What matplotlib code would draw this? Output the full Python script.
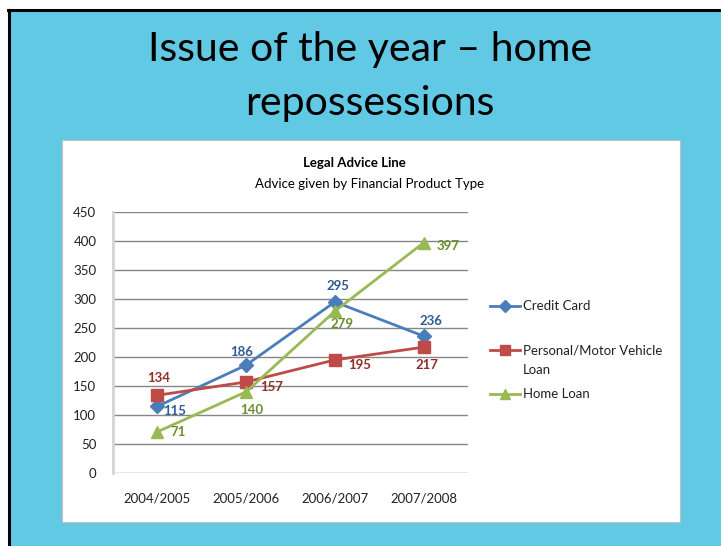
import matplotlib.pyplot as plt
from matplotlib.patches import Rectangle
from matplotlib.lines import Line2D

plt.rcParams["font.family"] = ["Lato", "DejaVu Sans"]

# data
years = ["2004/2005", "2005/2006", "2006/2007", "2007/2008"]
credit_card = [115, 186, 295, 236]
personal_loan = [134, 157, 195, 217]
home_loan = [71, 140, 279, 397]
y_ticks = [0, 50, 100, 150, 200, 250, 300, 350, 400, 450]

W, H = 721, 546
fig = plt.figure(figsize=(W / 100, H / 100), dpi=100)
fig.patch.set_facecolor("white")


def fx(px):
    return px / W


def fy(py):
    return 1 - py / H


# slide background with the dark frame on top/left
fig.patches.append(Rectangle((fx(10), 0), 1 - fx(10), fy(11), transform=fig.transFigure,
                             facecolor="#62C9E5", edgecolor="none", zorder=0))
fig.add_artist(Line2D([fx(9), fx(9)], [0, fy(10)], transform=fig.transFigure, color="black", lw=2.2))
fig.add_artist(Line2D([fx(8), 1], [fy(10), fy(10)], transform=fig.transFigure, color="black", lw=2.2))

fig.text(fx(370), fy(50), "Issue of the year \u2013 home", ha="center", va="center", fontsize=29.5)
fig.text(fx(370), fy(103), "repossessions", ha="center", va="center", fontsize=29.5)

# white chart area
fig.patches.append(Rectangle((fx(62), fy(522)), fx(680) - fx(62), fy(140) - fy(522),
                             transform=fig.transFigure, facecolor="white", edgecolor="#BFBFBF",
                             lw=0.8, zorder=1))
fig.text(fx(354), fy(163), "Legal Advice Line", ha="center", va="center", fontsize=9.5,
         fontweight="bold", zorder=2)
fig.text(fx(370), fy(184), "Advice given by Financial Product Type", ha="center", va="center",
         fontsize=9.5, zorder=2)

ax = fig.add_axes([fx(113), fy(473), fx(468) - fx(113), fy(212) - fy(473)])
ax.set_zorder(3)
ax.patch.set_alpha(0)

x = list(range(len(years)))
series = [
    ("Credit Card", credit_card, "#4A7EBB", "#2E5C96", "D", 7),
    ("Personal/Motor Vehicle\nLoan", personal_loan, "#BE4B48", "#8E2F2C", "s", 8),
    ("Home Loan", home_loan, "#98B954", "#6E8C30", "^", 8),
]
# label offsets in pixels (dx, dy downwards)
label_offsets = [
    [(17, 5), (-5, -13), (3, -16), (7, -15)],
    [(1, -17), (26, 5), (25, 5), (3, 18)],
    [(21, 0), (6, 18), (7, 13), (24, 3)],
]

for (name, vals, col, lab_col, mk, ms), offs in zip(series, label_offsets):
    ax.plot(x, vals, color=col, lw=2, marker=mk, markersize=ms, label=name, zorder=4)
    for xi, v, (dx, dy) in zip(x, vals, offs):
        ax.annotate(str(v), (xi, v), xytext=(dx * 0.72, -dy * 0.72), textcoords="offset points",
                    ha="center", va="center", fontsize=9.5, fontweight="bold", color=lab_col,
                    zorder=5)

ax.set_xlim(-0.5, 3.5)
ax.set_ylim(0, 450)
ax.set_xticks(x)
ax.set_xticklabels(years, fontsize=9.5, color="#222222")
ax.set_yticks(y_ticks)
ax.tick_params(axis="y", labelsize=9.5, length=0, pad=12, labelcolor="#222222")
ax.tick_params(axis="x", length=0, pad=14)
ax.grid(axis="y", color="#868686", lw=1)
ax.set_axisbelow(True)
for side in ["top", "right", "bottom"]:
    ax.spines[side].set_visible(False)
ax.spines["left"].set_color("#D4D4D4")
ax.spines["left"].set_linewidth(2)

# legend, handle aligned with the first text line
legend_rows = [306, 350, 394]
for (name, vals, col, lab_col, mk, ms), row in zip(series, legend_rows):
    fig.add_artist(Line2D([fx(490), fx(520)], [fy(row), fy(row)], transform=fig.transFigure,
                          color=col, lw=2, zorder=5))
    fig.add_artist(Line2D([fx(505)], [fy(row)], transform=fig.transFigure, color=col,
                          marker=mk, markersize=ms * 0.9, zorder=5))
    fig.text(fx(523), fy(row - 5.5), name, ha="left", va="top", fontsize=9.5,
             linespacing=1.7, color="#222222", zorder=5)

fig.savefig("out.png", dpi=100)
